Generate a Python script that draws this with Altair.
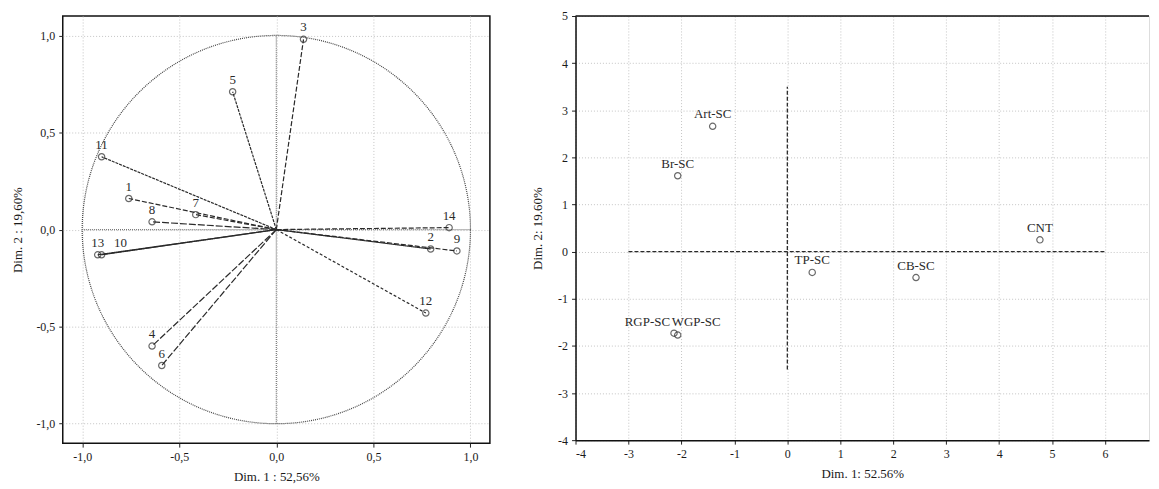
import altair as alt
import pandas as pd
import numpy as np

FONT = "Liberation Serif"

# ---- Left panel: variable loadings (correlation circle) ----
var_labels = ["1", "2", "3", "4", "5", "6", "7", "8", "9", "10", "11", "12", "13", "14"]
var_dim1 = [-0.76, 0.795, 0.14, -0.64, -0.225, -0.59, -0.415, -0.64, 0.93, -0.90, -0.90, 0.77, -0.92, 0.89]
var_dim2 = [0.16, -0.10, 0.98, -0.60, 0.71, -0.70, 0.077, 0.04, -0.11, -0.13, 0.375, -0.43, -0.13, 0.01]
var_style = ["dashed", "solid", "dashed", "longdash", "fine", "longdash", "dashed",
             "longdash", "dashed", "solid", "fine", "short", "solid", "dashed"]
left_ticks = [-1.0, -0.5, 0.0, 0.5, 1.0]

# ---- Right panel: case scores ----
case_labels = ["Art-SC", "Br-SC", "TP-SC", "CB-SC", "CNT", "RGP-SC", "WGP-SC"]
case_dim1 = [-1.41, -2.07, 0.47, 2.43, 4.77, -2.14, -2.07]
case_dim2 = [2.66, 1.61, -0.44, -0.55, 0.25, -1.73, -1.77]
right_xticks = [-4, -3, -2, -1, 0, 1, 2, 3, 4, 5, 6]
right_yticks = [-4, -3, -2, -1, 0, 1, 2, 3, 4, 5]

# ---- build tables ----
t = np.linspace(0, 2 * np.pi, 361)
circle_df = pd.DataFrame({"x": np.cos(t), "y": np.sin(t), "o": np.arange(len(t))})
cross_df = pd.DataFrame({"x": [-1.0, 0.0], "x2": [1.0, 0.0], "y": [0.0, -1.0], "y2": [0.0, 1.0]})

rows = []
for lab, x, y, s in zip(var_labels, var_dim1, var_dim2, var_style):
    rows.append({"var": lab, "x": 0.0, "y": 0.0, "style": s, "o": 0})
    rows.append({"var": lab, "x": x, "y": y, "style": s, "o": 1})
vec_df = pd.DataFrame(rows)
pts_df = pd.DataFrame({"var": var_labels, "x": var_dim1, "y": var_dim2})

case_df = pd.DataFrame({"name": case_labels, "x": case_dim1, "y": case_dim2})
ref_df = pd.DataFrame({"x": [-3.0, 0.0], "x2": [6.0, 0.0], "y": [0.0, -2.5], "y2": [0.0, 3.5]})

lx = alt.Scale(domain=[-1.1, 1.1], nice=False, zero=False)
ly = alt.Scale(domain=[-1.1, 1.1], nice=False, zero=False)
comma_expr = "replace(replace(format(datum.value, '.1f'), '.', ','), '\u2212', '-')"

axis_common = dict(
    grid=True, gridColor="#c4c4c4", gridDash=[1, 2], gridWidth=1,
    labelFont=FONT, labelFontSize=12, labelColor="#1a1a1a",
    titleFont=FONT, titleFontSize=13, titleFontWeight="normal", titleColor="#1a1a1a",
    tickColor="#222", tickSize=4, labelPadding=4,
)

x_left = alt.X("x:Q", scale=lx, axis=alt.Axis(title="Dim. 1 : 52,56%", values=left_ticks,
              labelExpr=comma_expr, domain=False, titlePadding=9, **axis_common))
y_left = alt.Y("y:Q", scale=ly, axis=alt.Axis(title="Dim. 2 : 19,60%", values=left_ticks,
              labelExpr=comma_expr, domain=False, titlePadding=11, **axis_common))

circle = alt.Chart(circle_df).mark_line(color="#444", strokeDash=[1, 1], strokeWidth=1.2).encode(
    x=x_left, y=y_left, order="o:Q")
cross = alt.Chart(cross_df).mark_rule(color="#777", strokeDash=[1, 1], strokeWidth=1.2).encode(
    x="x:Q", x2="x2:Q", y="y:Q", y2="y2:Q")
vectors = alt.Chart(vec_df).mark_line(color="#2a2a2a", strokeWidth=1.2).encode(
    x="x:Q", y="y:Q", detail="var:N", order="o:Q",
    strokeDash=alt.StrokeDash("style:N", legend=None, scale=alt.Scale(
        domain=["solid", "dashed", "longdash", "fine", "short"],
        range=[[1, 0], [5, 2], [7, 2], [3, 1], [3, 2]])))
points = alt.Chart(pts_df).mark_point(shape="circle", filled=False, color="#2a2a2a", size=40,
                                      strokeWidth=1.2).encode(x="x:Q", y="y:Q")
labels = alt.Chart(pts_df).transform_filter("datum.var != '10'").mark_text(
    font=FONT, fontSize=13, color="#2a2a2a", dy=-12).encode(x="x:Q", y="y:Q", text="var:N")
label10 = alt.Chart(pts_df).transform_filter("datum.var == '10'").mark_text(
    font=FONT, fontSize=13, color="#2a2a2a", dy=-12, dx=19).encode(x="x:Q", y="y:Q", text="var:N")

left = alt.layer(circle, cross, vectors, points, labels, label10).properties(
    width=429, height=429, view=alt.ViewBackground(stroke="#111", strokeWidth=1.5))

# ---- right ----
XMAX = 6.83
rx = alt.Scale(domain=[-4, XMAX], nice=False, zero=False)
ry = alt.Scale(domain=[-4, 5], nice=False, zero=False)
int_expr = "replace(format(datum.value, 'd'), '\u2212', '-')"

x_right = alt.X("x:Q", scale=rx, axis=alt.Axis(title="Dim. 1: 52.56%", values=right_xticks,
               labelExpr=int_expr, domain=True, domainColor="#111", domainWidth=1.5,
               titlePadding=9, **axis_common))
y_right = alt.Y("y:Q", scale=ry, axis=alt.Axis(title="Dim. 2: 19.60%", values=right_yticks,
               labelExpr=int_expr, domain=True, domainColor="#111", domainWidth=1.5,
               titlePadding=13, **axis_common))

ref_lines = alt.Chart(ref_df).mark_rule(color="#2a2a2a", strokeDash=[4, 2], strokeWidth=1.3).encode(
    x=x_right, x2="x2:Q", y=y_right, y2="y2:Q")
top_border = alt.Chart(ref_df.head(1)).mark_rule(color="#111", strokeWidth=1.5).encode(
    x=alt.datum(-4), x2=alt.datum(XMAX), y=alt.datum(5))
cpoints = alt.Chart(case_df).mark_point(shape="circle", filled=False, color="#2a2a2a", size=40,
                                        strokeWidth=1.2).encode(x="x:Q", y="y:Q")
clabels = alt.Chart(case_df).transform_filter(
    "datum.name != 'RGP-SC' && datum.name != 'WGP-SC'").mark_text(
    font=FONT, fontSize=13, color="#2a2a2a", dy=-12).encode(x="x:Q", y="y:Q", text="name:N")
rgp_label = alt.Chart(case_df).transform_filter("datum.name == 'RGP-SC'").mark_text(
    font=FONT, fontSize=13, color="#2a2a2a", dy=-11, dx=-4, align="right").encode(
    x="x:Q", y="y:Q", text="name:N")
wgp_label = alt.Chart(case_df).transform_filter("datum.name == 'WGP-SC'").mark_text(
    font=FONT, fontSize=13, color="#2a2a2a", dy=-13, dx=-6, align="left").encode(
    x="x:Q", y="y:Q", text="name:N")

right = alt.layer(ref_lines, top_border, cpoints, clabels, rgp_label, wgp_label).properties(
    width=576, height=426)

chart = alt.hconcat(left, right, spacing=40).properties(
    padding={"left": 3, "top": 0, "right": 0, "bottom": 0}
).configure_view(stroke=None).configure(background="white")

chart.save("out.html", embed_options={"renderer": "svg", "actions": False})
